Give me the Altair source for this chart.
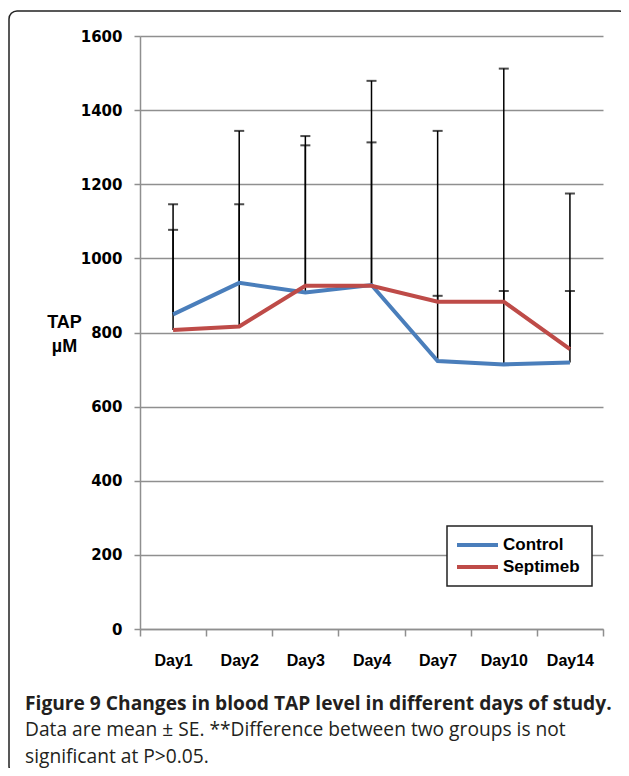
import altair as alt
import pandas as pd

days = ["Day1", "Day2", "Day3", "Day4", "Day7", "Day10", "Day14"]
groups = ["Control", "Septimeb"]
control_mean = [849, 934, 908, 928, 723, 714, 719]
septimeb_mean = [807, 816, 926, 926, 883, 883, 755]
control_upper = [1146, 1146, 1330, 1479, 1344, 1512, 1175]
septimeb_upper = [1077, 1344, 1305, 1313, 899, 912, 912]
y_ticks = [0, 200, 400, 600, 800, 1000, 1200, 1400, 1600]
y_title = ["TAP", "µM"]
caption_bold = ["Figure 9 Changes in blood TAP level in different days of study."]
caption_lines = ["Data are mean ± SE. **Difference between two groups is not",
                 "significant at P>0.05."]
colors = ["#4A7EBB", "#BE4B48"]

rows = []
for i, d in enumerate(days):
    rows.append({"day": d, "group": "Control", "mean": control_mean[i], "upper": control_upper[i]})
    rows.append({"day": d, "group": "Septimeb", "mean": septimeb_mean[i], "upper": septimeb_upper[i]})
df = pd.DataFrame(rows)

W, H = 463, 593
GRID = "#8f8f8f"

xenc = alt.X("day:N", sort=days, bandPosition=0.5,
             scale=alt.Scale(type="band", paddingInner=0, paddingOuter=0),
             axis=alt.Axis(title=None, tickBand="extent", labelAngle=0,
                           labelFont="Liberation Sans Narrow, Liberation Sans",
                           labelFontWeight="bold", labelFontSize=16, labelColor="black",
                           labelPadding=16, tickSize=7, tickColor=GRID, tickWidth=1.5,
                           domainColor=GRID, domainWidth=1.5, grid=False))
yscale = alt.Scale(domain=[0, 1600], nice=False)
yaxis = alt.Axis(values=y_ticks, format="d", title=y_title, titleAngle=0,
                 titleAlign="center", titleBaseline="top", titleX=-76, titleY=277,
                 titleLineHeight=24, titleFont="Liberation Sans", titleFontWeight="bold",
                 titleFontSize=18, titleColor="black",
                 labelFont="DejaVu Sans", labelFontWeight="bold", labelFontSize=15,
                 labelColor="black", labelPadding=12, tickSize=6, tickColor=GRID,
                 tickWidth=1.5, domainColor=GRID, domainWidth=1.5,
                 gridColor=GRID, gridWidth=1.5)

base = alt.Chart(df)

rules = base.mark_rule(color="black", strokeWidth=1.5).encode(
    x=xenc,
    y=alt.Y("mean:Q", scale=yscale, axis=yaxis),
    y2="upper:Q",
)
caps = base.mark_tick(color="black", size=10, thickness=2).encode(
    x=xenc,
    y=alt.Y("upper:Q", scale=yscale),
)
lines = base.mark_line(strokeWidth=4).encode(
    x=xenc,
    y=alt.Y("mean:Q", scale=yscale),
    color=alt.Color("group:N", scale=alt.Scale(domain=groups, range=colors), legend=None),
)

one = pd.DataFrame({"a": [0]})

# legend box (drawn by hand, placed in pixels)
leg_box = alt.Chart(one).mark_rect(fill="white", stroke="#222", strokeWidth=1.5).encode(
    x=alt.value(307), x2=alt.value(452), y=alt.value(490), y2=alt.value(550))
leg_layers = [leg_box]
for k, g in enumerate(groups):
    yy = 509 + 22 * k
    leg_layers.append(alt.Chart(one).mark_rule(color=colors[k], strokeWidth=4).encode(
        x=alt.value(317), x2=alt.value(358), y=alt.value(yy)))
    leg_layers.append(alt.Chart(pd.DataFrame({"t": [g]})).mark_text(
        align="left", baseline="middle", font="Liberation Sans", fontWeight="bold",
        fontSize=17, color="black").encode(text="t:N", x=alt.value(363), y=alt.value(yy)))

frame = alt.Chart(one).mark_rect(
    cornerRadius=8, fill="transparent", stroke="#222", strokeWidth=1.5
).encode(x=alt.value(-131), x2=alt.value(487), y=alt.value(-25), y2=alt.value(738))

cap1 = alt.Chart(pd.DataFrame({"t": caption_bold})).mark_text(
    align="left", baseline="middle", font="Open Sans", fontWeight="bold",
    fontSize=19.2, color="#231f20"
).encode(text="t:N", x=alt.value(-115), y=alt.value(668))

cap2 = alt.Chart(pd.DataFrame({"t": caption_lines[:1]})).mark_text(
    align="left", baseline="middle", font="Open Sans", fontSize=19.2, color="#231f20"
).encode(text="t:N", x=alt.value(-115), y=alt.value(694))

cap3 = alt.Chart(pd.DataFrame({"t": caption_lines[1:]})).mark_text(
    align="left", baseline="middle", font="Open Sans", fontSize=19.2, color="#231f20"
).encode(text="t:N", x=alt.value(-115), y=alt.value(721))

chart = alt.layer(frame, rules, caps, lines, *leg_layers, cap1, cap2, cap3).properties(
    width=W, height=H,
    autosize=alt.AutoSizeParams(type="none"),
    padding={"left": 132, "top": 28, "right": 18, "bottom": 139},
).configure_view(stroke=None)

chart.save("out.html", embed_options={"renderer": "svg", "actions": False})
